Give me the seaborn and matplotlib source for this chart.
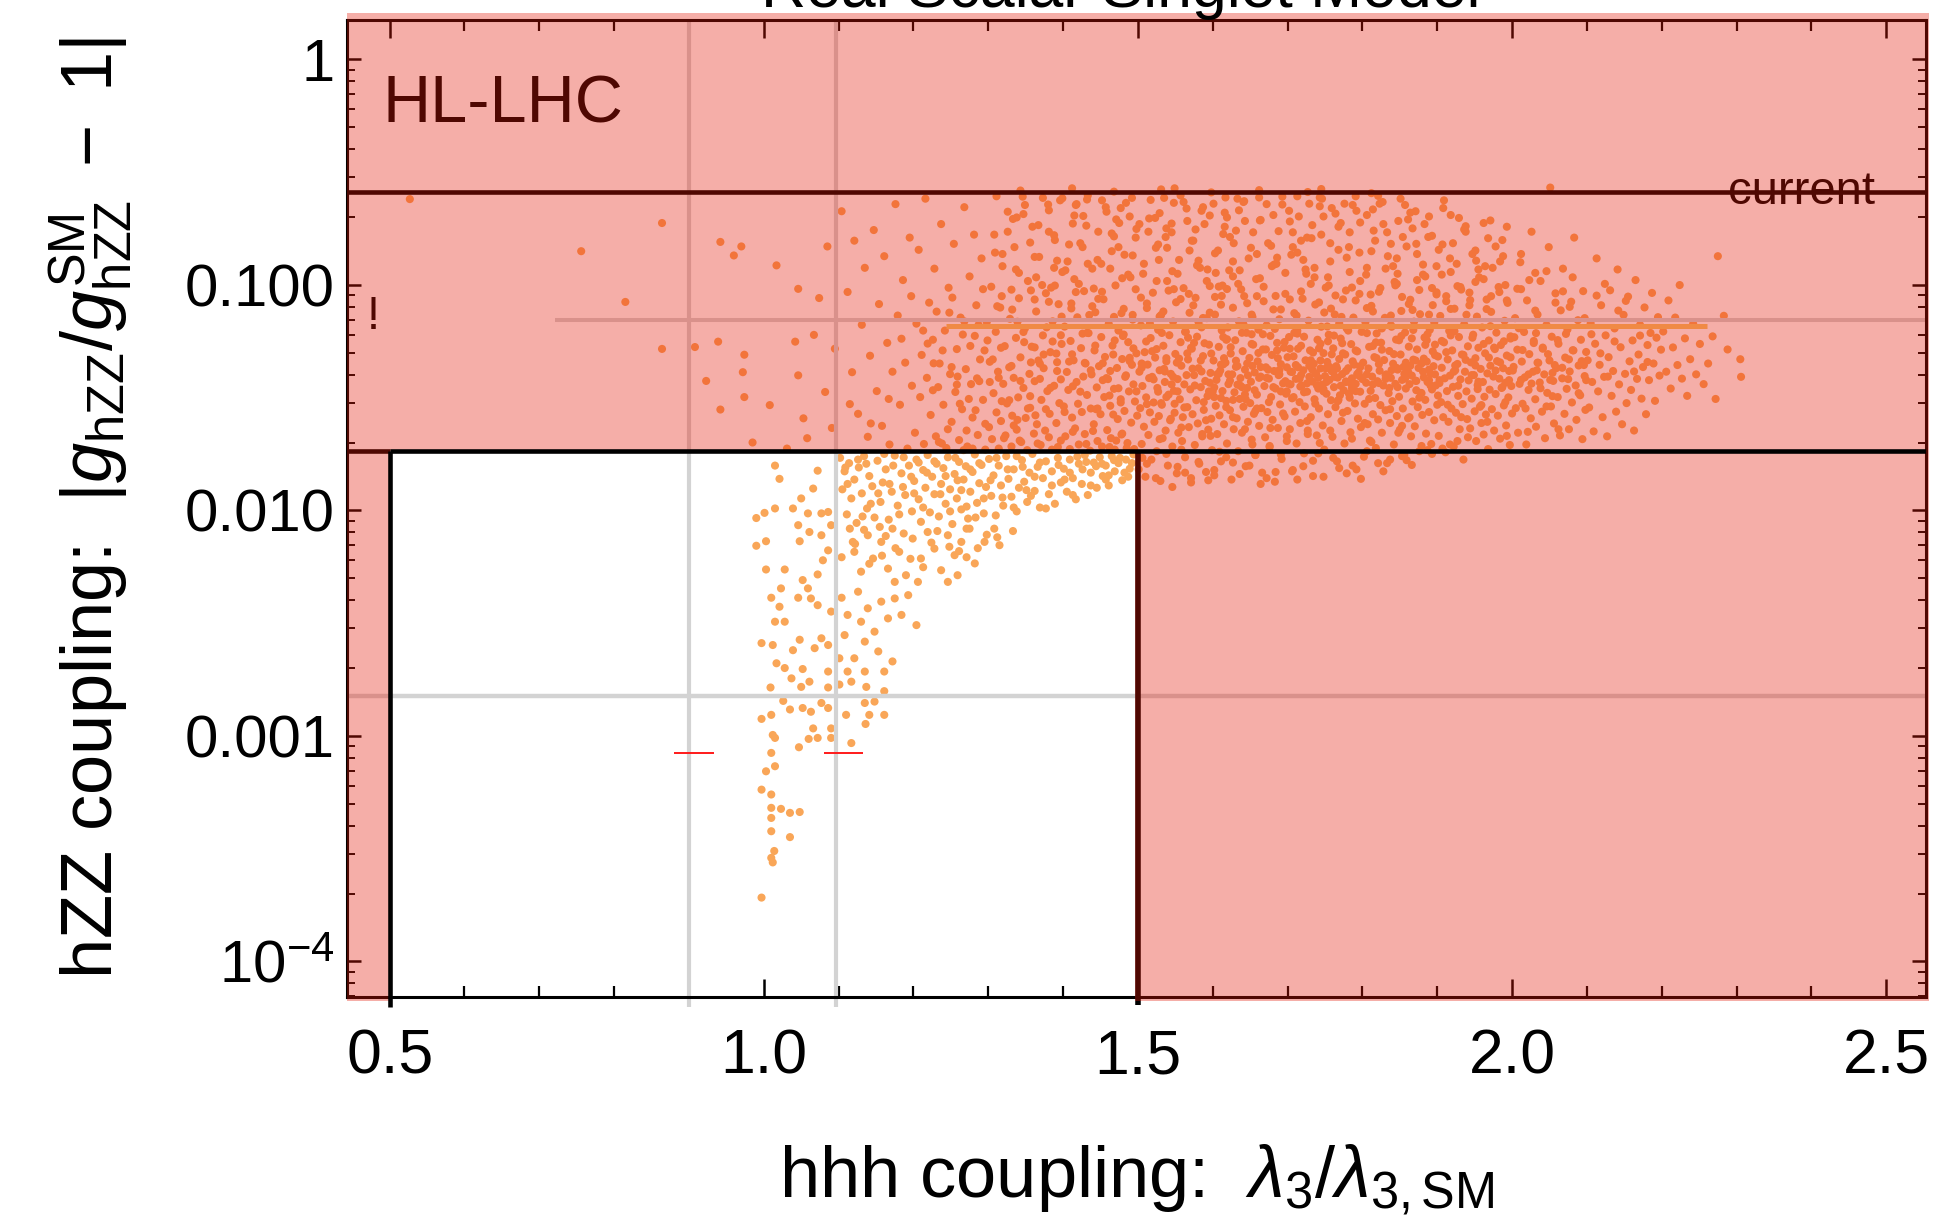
import matplotlib
matplotlib.use("Agg")
import matplotlib.pyplot as plt
import pandas as pd
import seaborn as sns
from matplotlib.patches import Polygon
from matplotlib.ticker import FixedLocator, FixedFormatter, LogLocator, NullFormatter, MultipleLocator

# ------------------------------------------------------------------
# Axis setup values
# ------------------------------------------------------------------
lam_ticks = [0.5, 1.0, 1.5, 2.0, 2.5]
lam_tick_labels = ["0.5", "1.0", "1.5", "2.0", "2.5"]
dev_ticks = [1e-4, 1e-3, 1e-2, 1e-1, 1.0]
dev_tick_labels = [r"$10^{-4}$", "0.001", "0.010", "0.100", "1"]
lam_limits = (0.443, 2.553)
dev_limits = (6.97e-5, 1.50)

# Constraint lines
hl_lhc_dev_bound = 0.0183      # HL-LHC reach on |g_hZZ/g_hZZ^SM - 1|
current_dev_bound = 0.258      # present bound
lam_window = (0.5, 1.5)        # HL-LHC reach on lambda_3
guide_lams = [0.9, 1.096]
guide_dev = 0.0015
upper_guide_dev = 0.0697
upper_guide_start = 0.721
band_dev = 0.0658
band_lams = (1.244, 2.261)
red_marks_dev = 8.37e-4
red_marks_lams = [(0.880, 0.933), (1.081, 1.133)]

# ------------------------------------------------------------------
# Scan points: (lambda_3 / lambda_3,SM , |g_hZZ/g_hZZ^SM - 1|)
# ------------------------------------------------------------------
sparse_left = [
    (0.527, 0.240), (0.756, 0.141), (0.815, 0.084), (0.864, 0.188), (0.864, 0.052),
    (0.908, 0.053), (0.939, 0.056), (0.942, 0.155), (0.970, 0.148), (0.960, 0.135),
    (1.017, 0.122), (1.046, 0.096), (1.085, 0.148), (0.974, 0.049), (1.042, 0.056),
    (1.067, 0.060), (0.923, 0.0375), (0.972, 0.041), (1.046, 0.0397), (0.974, 0.0318),
    (0.942, 0.028), (1.008, 0.0293), (1.053, 0.0256), (0.985, 0.020), (1.058, 0.0209),
    (1.082, 0.0335), (1.091, 0.0232), (1.074, 0.0874), (1.031, 0.0188), (1.095, 0.0521),
]

cloud_mid_lam = [
    # 1.10 - 1.20
    (1.104, 0.212), (1.112, 0.093), (1.118, 0.041), (1.121, 0.157), (1.126, 0.0268),
    (1.131, 0.0665), (1.135, 0.119), (1.139, 0.0212), (1.142, 0.0485), (1.147, 0.175),
    (1.151, 0.0338), (1.154, 0.0822), (1.158, 0.0237), (1.161, 0.134), (1.165, 0.0553),
    (1.168, 0.0196), (1.172, 0.0412), (1.176, 0.228), (1.179, 0.0731), (1.182, 0.0294),
    (1.186, 0.105), (1.189, 0.0452), (1.192, 0.0188), (1.195, 0.162), (1.198, 0.0357),
    (1.115, 0.0296), (1.143, 0.0243), (1.167, 0.0312), (1.184, 0.0577), (1.197, 0.0891),
    # 1.20 - 1.30
    (1.202, 0.0221), (1.204, 0.0673), (1.207, 0.143), (1.209, 0.0318), (1.211, 0.0489),
    (1.214, 0.0197), (1.216, 0.241), (1.218, 0.0387), (1.221, 0.0834), (1.223, 0.0265),
    (1.226, 0.0571), (1.228, 0.118), (1.230, 0.0213), (1.233, 0.0352), (1.235, 0.0448),
    (1.237, 0.186), (1.240, 0.0294), (1.242, 0.0627), (1.244, 0.0189), (1.247, 0.0971),
    (1.249, 0.0402), (1.251, 0.0247), (1.254, 0.152), (1.256, 0.0335), (1.258, 0.0519),
    (1.261, 0.0205), (1.263, 0.0716), (1.265, 0.0281), (1.268, 0.221), (1.270, 0.0423),
    (1.272, 0.0192), (1.275, 0.109), (1.277, 0.0363), (1.279, 0.0258), (1.282, 0.0594),
    (1.284, 0.0812), (1.286, 0.0216), (1.289, 0.0467), (1.291, 0.131), (1.293, 0.0309),
    (1.296, 0.0186), (1.298, 0.0684), (1.219, 0.0549), (1.231, 0.0761), (1.246, 0.0229),
    (1.259, 0.0392), (1.267, 0.0185), (1.274, 0.0312), (1.281, 0.167), (1.288, 0.0374),
    (1.295, 0.0512), (1.252, 0.0878), (1.238, 0.0198), (1.266, 0.0602),
    # 1.30 - 1.40
    (1.301, 0.0234), (1.302, 0.0456), (1.304, 0.0981), (1.305, 0.0207), (1.307, 0.0331),
    (1.308, 0.167), (1.310, 0.0619), (1.311, 0.0272), (1.313, 0.0412), (1.314, 0.0188),
    (1.316, 0.0793), (1.317, 0.0249), (1.319, 0.121), (1.320, 0.0364), (1.322, 0.0535),
    (1.323, 0.0215), (1.325, 0.0298), (1.326, 0.211), (1.328, 0.0431), (1.329, 0.0707),
    (1.331, 0.0192), (1.332, 0.0263), (1.334, 0.0387), (1.335, 0.147), (1.337, 0.0582),
    (1.338, 0.0228), (1.340, 0.0317), (1.341, 0.0872), (1.343, 0.0477), (1.344, 0.0201),
    (1.346, 0.246), (1.347, 0.0349), (1.349, 0.0641), (1.350, 0.0257), (1.352, 0.0185),
    (1.353, 0.104), (1.355, 0.0403), (1.356, 0.0285), (1.358, 0.0532), (1.359, 0.181),
    (1.361, 0.0219), (1.362, 0.0374), (1.364, 0.0762), (1.365, 0.0241), (1.367, 0.0462),
    (1.368, 0.133), (1.370, 0.0195), (1.371, 0.0309), (1.373, 0.0597), (1.374, 0.0427),
    (1.376, 0.0226), (1.377, 0.0918), (1.379, 0.0338), (1.380, 0.227), (1.382, 0.0268),
    (1.383, 0.0503), (1.385, 0.0186), (1.386, 0.0689), (1.388, 0.0357), (1.389, 0.158),
    (1.391, 0.0244), (1.392, 0.0415), (1.394, 0.0821), (1.395, 0.0299), (1.397, 0.0204),
    (1.398, 0.0547), (1.399, 0.114), (1.318, 0.0305), (1.333, 0.196), (1.348, 0.0557),
    (1.363, 0.0264), (1.378, 0.0648), (1.393, 0.0191), (1.309, 0.139), (1.339, 0.0252),
    (1.369, 0.0383), (1.384, 0.0972), (1.396, 0.237),
    # 1.40 - 1.50
    (1.401, 0.0289), (1.402, 0.0653), (1.403, 0.0213), (1.405, 0.0411), (1.406, 0.127),
    (1.407, 0.0342), (1.409, 0.0187), (1.410, 0.0564), (1.411, 0.0827), (1.412, 0.0258),
    (1.414, 0.0463), (1.415, 0.203), (1.416, 0.0231), (1.418, 0.0371), (1.419, 0.0718),
    (1.420, 0.0297), (1.421, 0.0196), (1.423, 0.153), (1.424, 0.0524), (1.425, 0.0273),
    (1.427, 0.0392), (1.428, 0.0938), (1.429, 0.0218), (1.430, 0.0448), (1.432, 0.0325),
    (1.433, 0.249), (1.434, 0.0611), (1.436, 0.0184), (1.437, 0.0283), (1.438, 0.0401),
    (1.439, 0.118), (1.441, 0.0241), (1.442, 0.0512), (1.443, 0.0756), (1.445, 0.0351),
    (1.446, 0.0203), (1.447, 0.172), (1.448, 0.0436), (1.450, 0.0267), (1.451, 0.0587),
    (1.452, 0.0192), (1.454, 0.0863), (1.455, 0.0318), (1.456, 0.0479), (1.457, 0.221),
    (1.459, 0.0227), (1.460, 0.0382), (1.461, 0.0671), (1.463, 0.0291), (1.464, 0.0209),
    (1.465, 0.141), (1.466, 0.0538), (1.468, 0.0346), (1.469, 0.0186), (1.470, 0.0994),
    (1.472, 0.0428), (1.473, 0.0254), (1.474, 0.0627), (1.475, 0.188), (1.477, 0.0311),
    (1.478, 0.0217), (1.479, 0.0469), (1.481, 0.0783), (1.482, 0.0276), (1.483, 0.0391),
    (1.484, 0.231), (1.486, 0.0199), (1.487, 0.0557), (1.488, 0.0337), (1.490, 0.108),
    (1.491, 0.0245), (1.492, 0.0442), (1.493, 0.0701), (1.495, 0.0187), (1.496, 0.0304),
    (1.497, 0.162), (1.498, 0.0497), (1.499, 0.0263), (1.413, 0.0355), (1.426, 0.0608),
    (1.440, 0.0225), (1.453, 0.0378), (1.467, 0.0266), (1.480, 0.0593), (1.494, 0.0362),
    (1.417, 0.0929), (1.444, 0.0281), (1.471, 0.0204), (1.489, 0.0475), (1.408, 0.0457),
    (1.435, 0.0735), (1.462, 0.0323), (1.485, 0.0189),
    # extra 1.20 - 1.40
    (1.251, 0.0432), (1.283, 0.0278), (1.317, 0.0526), (1.268, 0.0689), (1.302, 0.0371),
    (1.334, 0.0238), (1.226, 0.0341), (1.293, 0.0957), (1.347, 0.0618), (1.239, 0.0512),
    (1.271, 0.0226), (1.312, 0.0804), (1.357, 0.0453), (1.285, 0.0385), (1.328, 0.0308),
    (1.213, 0.0627), (1.262, 0.0297), (1.306, 0.0467), (1.343, 0.0375), (1.377, 0.0281),
    (1.234, 0.0201), (1.276, 0.0536), (1.321, 0.0209), (1.362, 0.0528), (1.392, 0.0454),
    (1.248, 0.0753), (1.296, 0.0242), (1.339, 0.0686), (1.383, 0.0349), (1.227, 0.0449),
    (1.279, 0.0188), (1.314, 0.0387), (1.353, 0.0283), (1.374, 0.0491), (1.258, 0.0361),
    (1.299, 0.0567), (1.331, 0.0437), (1.366, 0.0198), (1.397, 0.0598), (1.287, 0.0664),
]

cloud_high_lam = [
    # 1.50 - 1.60
    (1.501, 0.0152), (1.502, 0.0412), (1.503, 0.0284), (1.504, 0.0661), (1.505, 0.0197),
    (1.506, 0.0356), (1.507, 0.112), (1.508, 0.0235), (1.509, 0.0503), (1.510, 0.0141),
    (1.511, 0.0317), (1.512, 0.0789), (1.513, 0.0443), (1.514, 0.0216), (1.515, 0.197),
    (1.516, 0.0272), (1.517, 0.0581), (1.518, 0.0168), (1.519, 0.0391), (1.520, 0.0923),
    (1.521, 0.0301), (1.522, 0.0247), (1.523, 0.0476), (1.524, 0.146), (1.525, 0.0183),
    (1.526, 0.0349), (1.527, 0.0632), (1.528, 0.0262), (1.529, 0.0418), (1.530, 0.0135),
    (1.531, 0.0735), (1.532, 0.0294), (1.533, 0.0209), (1.534, 0.0537), (1.535, 0.243),
    (1.536, 0.0371), (1.537, 0.0226), (1.538, 0.0458), (1.539, 0.104), (1.540, 0.0158),
    (1.541, 0.0326), (1.542, 0.0598), (1.543, 0.0251), (1.544, 0.0403), (1.545, 0.171),
    (1.546, 0.0192), (1.547, 0.0688), (1.548, 0.0339), (1.549, 0.0271), (1.550, 0.0494),
    (1.551, 0.0837), (1.552, 0.0146), (1.553, 0.0382), (1.554, 0.0221), (1.555, 0.129),
    (1.556, 0.0311), (1.557, 0.0557), (1.558, 0.0438), (1.559, 0.0203), (1.560, 0.0259),
    (1.561, 0.0967), (1.562, 0.0362), (1.563, 0.0172), (1.564, 0.0619), (1.565, 0.218),
    (1.566, 0.0287), (1.567, 0.0467), (1.568, 0.0234), (1.569, 0.0752), (1.570, 0.0344),
    (1.571, 0.0139), (1.572, 0.0521), (1.573, 0.0267), (1.574, 0.157), (1.575, 0.0398),
    (1.576, 0.0195), (1.577, 0.0876), (1.578, 0.0308), (1.579, 0.0589), (1.580, 0.0243),
    (1.581, 0.0427), (1.582, 0.0161), (1.583, 0.119), (1.584, 0.0352), (1.585, 0.0648),
    (1.586, 0.0213), (1.587, 0.0483), (1.588, 0.0279), (1.589, 0.186), (1.590, 0.0375),
    (1.591, 0.0148), (1.592, 0.0712), (1.593, 0.0321), (1.594, 0.0228), (1.595, 0.0543),
    (1.596, 0.0988), (1.597, 0.0407), (1.598, 0.0255), (1.599, 0.0185), (1.600, 0.0337),
    (1.505, 0.0448), (1.515, 0.0386), (1.525, 0.0519), (1.535, 0.0424), (1.545, 0.0362),
    (1.555, 0.0471), (1.565, 0.0398), (1.575, 0.0553), (1.585, 0.0413), (1.595, 0.0337),
    (1.512, 0.0296), (1.538, 0.0318), (1.562, 0.0286), (1.588, 0.0302),
    # 1.60 - 1.70
    (1.601, 0.0462), (1.602, 0.0143), (1.603, 0.0738), (1.604, 0.0291), (1.605, 0.0379),
    (1.606, 0.0218), (1.607, 0.142), (1.608, 0.0531), (1.609, 0.0264), (1.610, 0.0417),
    (1.611, 0.0165), (1.612, 0.0893), (1.613, 0.0338), (1.614, 0.0587), (1.615, 0.0241),
    (1.616, 0.209), (1.617, 0.0452), (1.618, 0.0306), (1.619, 0.0198), (1.620, 0.0647),
    (1.621, 0.0363), (1.622, 0.116), (1.623, 0.0278), (1.624, 0.0496), (1.625, 0.0137),
    (1.626, 0.0401), (1.627, 0.0792), (1.628, 0.0229), (1.629, 0.0334), (1.630, 0.0568),
    (1.631, 0.174), (1.632, 0.0256), (1.633, 0.0437), (1.634, 0.0183), (1.635, 0.0689),
    (1.636, 0.0312), (1.637, 0.0386), (1.638, 0.0955), (1.639, 0.0221), (1.640, 0.0508),
    (1.641, 0.0288), (1.642, 0.235), (1.643, 0.0421), (1.644, 0.0157), (1.645, 0.0613),
    (1.646, 0.0349), (1.647, 0.0247), (1.648, 0.131), (1.649, 0.0474), (1.650, 0.0299),
    (1.651, 0.0372), (1.652, 0.0206), (1.653, 0.0721), (1.654, 0.0543), (1.655, 0.0268),
    (1.656, 0.0409), (1.657, 0.0176), (1.658, 0.106), (1.659, 0.0326), (1.660, 0.0458),
    (1.661, 0.0633), (1.662, 0.0237), (1.663, 0.193), (1.664, 0.0392), (1.665, 0.0284),
    (1.666, 0.0147), (1.667, 0.0517), (1.668, 0.0846), (1.669, 0.0356), (1.670, 0.0211),
    (1.671, 0.0431), (1.672, 0.0662), (1.673, 0.0273), (1.674, 0.153), (1.675, 0.0384),
    (1.676, 0.0191), (1.677, 0.0594), (1.678, 0.0318), (1.679, 0.0489), (1.680, 0.0252),
    (1.681, 0.0778), (1.682, 0.0415), (1.683, 0.0134), (1.684, 0.0347), (1.685, 0.124),
    (1.686, 0.0553), (1.687, 0.0232), (1.688, 0.0398), (1.689, 0.0704), (1.690, 0.0295),
    (1.691, 0.0445), (1.692, 0.0169), (1.693, 0.227), (1.694, 0.0366), (1.695, 0.0526),
    (1.696, 0.0261), (1.697, 0.0912), (1.698, 0.0329), (1.699, 0.0203), (1.700, 0.0478),
    (1.606, 0.0402), (1.614, 0.0444), (1.623, 0.0376), (1.631, 0.0461), (1.639, 0.0352),
    (1.647, 0.0397), (1.656, 0.0341), (1.664, 0.0432), (1.672, 0.0387), (1.681, 0.0352),
    (1.689, 0.0419), (1.697, 0.0374), (1.611, 0.0315), (1.627, 0.0309), (1.643, 0.0327),
    (1.659, 0.0283), (1.675, 0.0302), (1.691, 0.0337), (1.618, 0.0571), (1.652, 0.0604),
    (1.686, 0.0512),
    # 1.70 - 1.80
    (1.701, 0.0365), (1.702, 0.0587), (1.703, 0.0229), (1.704, 0.0412), (1.705, 0.136),
    (1.706, 0.0314), (1.707, 0.0151), (1.708, 0.0482), (1.709, 0.0749), (1.710, 0.0274),
    (1.711, 0.0383), (1.712, 0.0198), (1.713, 0.0626), (1.714, 0.0431), (1.715, 0.201),
    (1.716, 0.0302), (1.717, 0.0244), (1.718, 0.0537), (1.719, 0.0357), (1.720, 0.0868),
    (1.721, 0.0418), (1.722, 0.0179), (1.723, 0.0289), (1.724, 0.0463), (1.725, 0.112),
    (1.726, 0.0336), (1.727, 0.0226), (1.728, 0.0694), (1.729, 0.0391), (1.730, 0.0512),
    (1.731, 0.0259), (1.732, 0.161), (1.733, 0.0373), (1.734, 0.0142), (1.735, 0.0447),
    (1.736, 0.0311), (1.737, 0.0818), (1.738, 0.0405), (1.739, 0.0215), (1.740, 0.0571),
    (1.741, 0.0347), (1.742, 0.0283), (1.743, 0.244), (1.744, 0.0426), (1.745, 0.0652),
    (1.746, 0.0361), (1.747, 0.0238), (1.748, 0.0498), (1.749, 0.0186), (1.750, 0.0394),
    (1.751, 0.0972), (1.752, 0.0329), (1.753, 0.0455), (1.754, 0.0267), (1.755, 0.0601),
    (1.756, 0.0379), (1.757, 0.127), (1.758, 0.0308), (1.759, 0.0414), (1.760, 0.0212),
    (1.761, 0.0523), (1.762, 0.0352), (1.763, 0.0739), (1.764, 0.0287), (1.765, 0.0436),
    (1.766, 0.0165), (1.767, 0.0388), (1.768, 0.181), (1.769, 0.0469), (1.770, 0.0324),
    (1.771, 0.0578), (1.772, 0.0249), (1.773, 0.0402), (1.774, 0.0862), (1.775, 0.0341),
    (1.776, 0.0198), (1.777, 0.0491), (1.778, 0.0371), (1.779, 0.0641), (1.780, 0.0276),
    (1.781, 0.0427), (1.782, 0.147), (1.783, 0.0316), (1.784, 0.0222), (1.785, 0.0546),
    (1.786, 0.0385), (1.787, 0.0158), (1.788, 0.0716), (1.789, 0.0443), (1.790, 0.0298),
    (1.791, 0.0364), (1.792, 0.213), (1.793, 0.0507), (1.794, 0.0255), (1.795, 0.0409),
    (1.796, 0.0912), (1.797, 0.0336), (1.798, 0.0234), (1.799, 0.0619), (1.800, 0.0382),
    (1.704, 0.0362), (1.711, 0.0441), (1.718, 0.0398), (1.726, 0.0366), (1.733, 0.0421),
    (1.741, 0.0387), (1.748, 0.0345), (1.756, 0.0433), (1.763, 0.0391), (1.771, 0.0357),
    (1.778, 0.0415), (1.786, 0.0348), (1.793, 0.0402), (1.708, 0.0318), (1.722, 0.0334),
    (1.737, 0.0297), (1.752, 0.0371), (1.767, 0.0305), (1.782, 0.0329), (1.797, 0.0436),
    (1.714, 0.0521), (1.744, 0.0548), (1.774, 0.0497),
    # 1.80 - 1.90
    (1.801, 0.0452), (1.802, 0.0173), (1.803, 0.0297), (1.804, 0.0683), (1.805, 0.0368),
    (1.806, 0.119), (1.807, 0.0241), (1.808, 0.0426), (1.809, 0.0531), (1.810, 0.0204),
    (1.811, 0.0339), (1.812, 0.0807), (1.813, 0.0392), (1.814, 0.0267), (1.815, 0.174),
    (1.816, 0.0478), (1.817, 0.0315), (1.818, 0.0189), (1.819, 0.0609), (1.820, 0.0374),
    (1.821, 0.0253), (1.822, 0.0932), (1.823, 0.0416), (1.824, 0.0293), (1.825, 0.0554),
    (1.826, 0.0221), (1.827, 0.233), (1.828, 0.0358), (1.829, 0.0464), (1.830, 0.0714),
    (1.831, 0.0278), (1.832, 0.0401), (1.833, 0.0162), (1.834, 0.134), (1.835, 0.0331),
    (1.836, 0.0509), (1.837, 0.0244), (1.838, 0.0387), (1.839, 0.0652), (1.840, 0.0305),
    (1.841, 0.0447), (1.842, 0.0196), (1.843, 0.103), (1.844, 0.0364), (1.845, 0.0572),
    (1.846, 0.0262), (1.847, 0.0421), (1.848, 0.192), (1.849, 0.0319), (1.850, 0.0228),
    (1.851, 0.0491), (1.852, 0.0766), (1.853, 0.0379), (1.854, 0.0283), (1.855, 0.0433),
    (1.856, 0.0177), (1.857, 0.0615), (1.858, 0.0347), (1.859, 0.148), (1.860, 0.0411),
    (1.861, 0.0256), (1.862, 0.0532), (1.863, 0.0363), (1.864, 0.0859), (1.865, 0.0213),
    (1.866, 0.0396), (1.867, 0.0304), (1.868, 0.0466), (1.869, 0.0687), (1.870, 0.0236),
    (1.871, 0.212), (1.872, 0.0375), (1.873, 0.0517), (1.874, 0.0287), (1.875, 0.0428),
    (1.876, 0.0183), (1.877, 0.0741), (1.878, 0.0332), (1.879, 0.0448), (1.880, 0.0265),
    (1.881, 0.111), (1.882, 0.0389), (1.883, 0.0584), (1.884, 0.0309), (1.885, 0.0219),
    (1.886, 0.0457), (1.887, 0.0371), (1.888, 0.163), (1.889, 0.0273), (1.890, 0.0632),
    (1.891, 0.0403), (1.892, 0.0197), (1.893, 0.0344), (1.894, 0.0813), (1.895, 0.0436),
    (1.896, 0.0251), (1.897, 0.0543), (1.898, 0.0358), (1.899, 0.0927), (1.900, 0.0294),
    (1.806, 0.0401), (1.814, 0.0362), (1.822, 0.0445), (1.831, 0.0383), (1.839, 0.0419),
    (1.847, 0.0352), (1.856, 0.0403), (1.864, 0.0438), (1.872, 0.0341), (1.881, 0.0412),
    (1.889, 0.0378), (1.897, 0.0401), (1.818, 0.0556), (1.852, 0.0593), (1.886, 0.0568),
    # 1.90 - 2.00
    (1.901, 0.0481), (1.902, 0.0214), (1.903, 0.0367), (1.904, 0.0728), (1.905, 0.0302),
    (1.906, 0.0429), (1.907, 0.151), (1.908, 0.0259), (1.909, 0.0556), (1.910, 0.0385),
    (1.911, 0.0181), (1.912, 0.0891), (1.913, 0.0338), (1.914, 0.0467), (1.915, 0.0247),
    (1.916, 0.0625), (1.917, 0.0396), (1.918, 0.204), (1.919, 0.0283), (1.920, 0.0512),
    (1.921, 0.0353), (1.922, 0.0192), (1.923, 0.0784), (1.924, 0.0418), (1.925, 0.0271),
    (1.926, 0.124), (1.927, 0.0446), (1.928, 0.0322), (1.929, 0.0587), (1.930, 0.0229),
    (1.931, 0.0381), (1.932, 0.0953), (1.933, 0.0491), (1.934, 0.0296), (1.935, 0.0168),
    (1.936, 0.0668), (1.937, 0.0412), (1.938, 0.172), (1.939, 0.0337), (1.940, 0.0254),
    (1.941, 0.0534), (1.942, 0.0377), (1.943, 0.0812), (1.944, 0.0231), (1.945, 0.0453),
    (1.946, 0.0313), (1.947, 0.137), (1.948, 0.0601), (1.949, 0.0398), (1.950, 0.0275),
    (1.951, 0.0473), (1.952, 0.0203), (1.953, 0.0723), (1.954, 0.0359), (1.955, 0.0526),
    (1.956, 0.108), (1.957, 0.0288), (1.958, 0.0424), (1.959, 0.0244), (1.960, 0.0647),
    (1.961, 0.0371), (1.962, 0.188), (1.963, 0.0319), (1.964, 0.0497), (1.965, 0.0266),
    (1.966, 0.0861), (1.967, 0.0405), (1.968, 0.0187), (1.969, 0.0567), (1.970, 0.0343),
    (1.971, 0.0438), (1.972, 0.0759), (1.973, 0.0281), (1.974, 0.119), (1.975, 0.0392),
    (1.976, 0.0226), (1.977, 0.0519), (1.978, 0.0328), (1.979, 0.0614), (1.980, 0.0459),
    (1.981, 0.0263), (1.982, 0.0978), (1.983, 0.0384), (1.984, 0.0208), (1.985, 0.0541),
    (1.986, 0.0349), (1.987, 0.158), (1.988, 0.0427), (1.989, 0.0292), (1.990, 0.0693),
    (1.991, 0.0368), (1.992, 0.0238), (1.993, 0.0486), (1.994, 0.0832), (1.995, 0.0317),
    (1.996, 0.0415), (1.997, 0.0195), (1.998, 0.0578), (1.999, 0.0356), (2.000, 0.0269),
]

cloud_upper_fill = [
    (1.452, 0.237), (1.587, 0.221), (1.693, 0.246), (1.338, 0.199), (1.771, 0.188),
    (1.514, 0.172), (1.864, 0.209), (1.623, 0.163), (1.408, 0.151), (1.729, 0.229),
    (1.936, 0.176), (1.557, 0.249), (1.381, 0.214), (1.817, 0.157), (1.664, 0.194),
    (1.493, 0.135), (1.902, 0.143), (1.745, 0.167), (1.603, 0.138), (1.326, 0.172),
    (1.851, 0.241), (1.529, 0.208), (1.787, 0.226), (1.431, 0.183), (1.678, 0.149),
    (1.968, 0.161), (1.362, 0.133), (1.566, 0.192), (1.713, 0.139), (1.883, 0.186),
    (1.477, 0.219), (1.641, 0.233), (1.806, 0.204), (1.399, 0.242), (1.539, 0.146),
    (1.757, 0.153), (1.929, 0.198), (1.616, 0.181), (1.468, 0.164), (1.833, 0.171),
    (1.702, 0.213), (1.349, 0.226), (1.581, 0.128), (1.917, 0.131), (1.654, 0.171),
    (1.502, 0.186), (1.796, 0.139), (1.427, 0.202), (1.733, 0.184), (1.872, 0.152),
    (1.548, 0.231), (1.617, 0.244), (1.388, 0.166), (1.951, 0.142), (1.686, 0.132),
    (1.823, 0.229), (1.446, 0.129), (1.572, 0.157), (1.764, 0.207), (1.528, 0.129),
    (1.893, 0.165), (1.635, 0.214), (1.418, 0.228), (1.707, 0.171), (1.984, 0.127),
    (1.489, 0.201), (1.846, 0.131), (1.596, 0.203), (1.746, 0.241), (1.367, 0.184),
    (1.659, 0.137), (1.908, 0.219), (1.538, 0.178), (1.783, 0.171), (1.311, 0.247),
    (1.628, 0.153), (1.861, 0.195), (1.474, 0.147), (1.718, 0.157), (1.993, 0.181),
    (1.356, 0.154), (1.492, 0.243), (1.627, 0.127), (1.759, 0.219), (1.884, 0.109),
    (1.413, 0.187), (1.548, 0.0957), (1.681, 0.204), (1.812, 0.141), (1.943, 0.0924),
    (1.331, 0.0952), (1.465, 0.169), (1.601, 0.229), (1.736, 0.119), (1.867, 0.178),
    (1.991, 0.0998), (1.392, 0.128), (1.523, 0.198), (1.659, 0.0891), (1.791, 0.247),
    (1.921, 0.153), (1.347, 0.206), (1.479, 0.107), (1.614, 0.168), (1.748, 0.201),
    (1.876, 0.0949), (2.012, 0.137), (1.426, 0.147), (1.561, 0.233), (1.697, 0.113),
    (1.828, 0.186), (1.962, 0.106), (1.373, 0.243), (1.508, 0.124), (1.643, 0.192),
    (1.779, 0.132), (1.909, 0.237), (1.441, 0.0963), (1.577, 0.176), (1.713, 0.247),
    (1.846, 0.101), (1.978, 0.148), (1.319, 0.137), (1.458, 0.211), (1.593, 0.117),
    (1.726, 0.162), (1.857, 0.226), (2.031, 0.113), (1.403, 0.116), (1.537, 0.163),
    (1.672, 0.228), (1.805, 0.111), (1.938, 0.182), (1.364, 0.108), (1.498, 0.177),
    (1.634, 0.101), (1.768, 0.143), (1.899, 0.121), (1.432, 0.239), (1.569, 0.142),
    (1.703, 0.191), (1.838, 0.152), (1.971, 0.193), (1.381, 0.172), (1.517, 0.238),
    (1.651, 0.146), (1.786, 0.0973), (1.918, 0.114), (1.451, 0.124), (1.585, 0.213),
    (1.721, 0.129), (1.854, 0.163), (1.988, 0.134), (1.337, 0.117), (1.471, 0.195),
    (1.608, 0.0982), (1.743, 0.223), (1.873, 0.137), (2.007, 0.0961), (1.417, 0.226),
    (1.553, 0.112), (1.688, 0.173), (1.821, 0.248), (1.952, 0.128), (1.389, 0.0993),
    (1.527, 0.151), (1.662, 0.244), (1.797, 0.189), (1.931, 0.0978), (1.482, 0.136),
    (1.619, 0.199), (1.754, 0.108), (1.889, 0.201), (1.545, 0.187), (1.682, 0.123),
    (1.814, 0.216), (1.707, 0.147), (1.633, 0.241), (1.776, 0.229), (1.841, 0.121),
]

cloud_mid_fill = [
    (1.463, 0.118), (1.592, 0.104), (1.718, 0.0935), (1.847, 0.112), (1.381, 0.0841),
    (1.534, 0.0762), (1.679, 0.121), (1.806, 0.0789), (1.927, 0.0987), (2.058, 0.0834),
    (1.421, 0.101), (1.568, 0.0912), (1.736, 0.108), (1.889, 0.0738), (1.341, 0.113),
    (1.611, 0.0817), (1.772, 0.0721), (1.955, 0.117), (2.113, 0.0896), (1.497, 0.0956),
    (1.652, 0.0738), (1.824, 0.0968), (1.398, 0.0723), (1.546, 0.115), (1.703, 0.0862),
    (1.873, 0.105), (2.031, 0.0769), (1.447, 0.0867), (1.587, 0.0713), (1.755, 0.0994),
    (1.912, 0.0846), (1.357, 0.0945), (1.627, 0.109), (1.791, 0.0853), (1.983, 0.0929),
    (2.081, 0.108), (1.512, 0.0827), (1.668, 0.0981), (1.838, 0.0731), (1.433, 0.124),
    (1.603, 0.0884), (1.749, 0.0754), (1.906, 0.111), (2.142, 0.0769), (1.478, 0.0749),
    (1.636, 0.116), (1.811, 0.0906), (1.966, 0.0781), (1.372, 0.0998), (1.557, 0.0865),
    (1.724, 0.117), (1.862, 0.0823), (2.012, 0.0957), (1.411, 0.0786), (1.579, 0.122),
    (1.691, 0.0778), (1.853, 0.0884), (1.939, 0.0737), (2.097, 0.0712), (1.525, 0.104),
    (1.646, 0.0829), (1.783, 0.114), (1.951, 0.103), (1.332, 0.0777), (1.487, 0.111),
    (1.619, 0.0958), (1.764, 0.0897), (1.893, 0.0968), (2.046, 0.115), (1.452, 0.0932),
    (1.596, 0.0753), (1.742, 0.0836), (1.881, 0.123), (1.993, 0.0853), (1.388, 0.119),
    (1.541, 0.0943), (1.712, 0.0731), (1.831, 0.118), (2.068, 0.0936), (1.468, 0.0721),
    (1.613, 0.0993), (1.778, 0.0944), (1.918, 0.0782), (2.124, 0.101), (1.504, 0.0878),
    (1.663, 0.107), (1.814, 0.0762), (1.972, 0.0891), (1.415, 0.106), (1.574, 0.0811),
    (1.731, 0.101), (1.867, 0.0774), (2.023, 0.105), (1.362, 0.0861), (1.529, 0.0724),
    (1.684, 0.0893), (1.844, 0.0995), (1.964, 0.121), (2.152, 0.0849), (1.439, 0.0804),
    (1.604, 0.113), (1.758, 0.0785), (1.899, 0.0907), (2.077, 0.0799), (1.493, 0.0736),
    (1.642, 0.0891), (1.797, 0.104), (1.944, 0.0856), (1.318, 0.0891),
]

cloud_core_fill = [
    (1.532, 0.0612), (1.687, 0.0473), (1.814, 0.0536), (1.946, 0.0398), (1.618, 0.0287),
    (1.753, 0.0654), (1.879, 0.0331), (1.467, 0.0491), (1.596, 0.0368), (1.722, 0.0589),
    (1.858, 0.0452), (1.991, 0.0302), (1.544, 0.0255), (1.671, 0.0517), (1.796, 0.0394),
    (1.923, 0.0623), (2.057, 0.0441), (1.423, 0.0336), (1.581, 0.0684), (1.706, 0.0411),
    (1.837, 0.0281), (1.962, 0.0547), (1.505, 0.0429), (1.639, 0.0613), (1.768, 0.0309),
    (1.897, 0.0488), (2.026, 0.0365), (1.386, 0.0561), (1.553, 0.0337), (1.694, 0.0269),
    (1.826, 0.0641), (1.954, 0.0345), (2.118, 0.0497), (1.481, 0.0602), (1.611, 0.0443),
    (1.742, 0.0523), (1.871, 0.0376), (2.003, 0.0586), (1.437, 0.0418), (1.566, 0.0497),
    (1.717, 0.0354), (1.849, 0.0568), (1.978, 0.0417), (2.089, 0.0331), (1.521, 0.0381),
    (1.657, 0.0276), (1.787, 0.0458), (1.914, 0.0294), (2.041, 0.0521), (1.402, 0.0273),
    (1.589, 0.0551), (1.731, 0.0463), (1.863, 0.0259), (1.998, 0.0477), (1.458, 0.0386),
    (1.624, 0.0529), (1.778, 0.0373), (1.906, 0.0564), (2.072, 0.0606), (1.549, 0.0297),
    (1.683, 0.0638), (1.809, 0.0312), (1.938, 0.0465), (2.163, 0.0413), (1.494, 0.0523),
    (1.633, 0.0361), (1.762, 0.0596), (1.889, 0.0421), (2.018, 0.0283), (1.369, 0.0447),
    (1.573, 0.0425), (1.713, 0.0608), (1.842, 0.0493), (1.971, 0.0656), (1.516, 0.0673),
    (1.646, 0.0448), (1.774, 0.0271), (1.903, 0.0378), (2.034, 0.0452), (1.443, 0.0538),
    (1.602, 0.0318), (1.737, 0.0403), (1.868, 0.0631), (1.987, 0.0352), (2.137, 0.0561),
    (1.538, 0.0473), (1.662, 0.0387), (1.791, 0.0512), (1.924, 0.0439), (2.051, 0.0379),
    (1.477, 0.0301), (1.619, 0.0574), (1.748, 0.0337), (1.884, 0.0542), (2.009, 0.0642),
    (1.412, 0.0492), (1.563, 0.0619), (1.699, 0.0431), (1.831, 0.0398), (1.959, 0.0293),
    (2.093, 0.0459), (1.527, 0.0336), (1.652, 0.0547), (1.781, 0.0627), (1.912, 0.0503),
    (2.046, 0.0289), (1.453, 0.0449), (1.608, 0.0403), (1.744, 0.0462), (1.876, 0.0316),
    (2.001, 0.0417), (2.181, 0.0455), (1.591, 0.0251), (1.726, 0.0249), (1.853, 0.0237),
    (1.967, 0.0247), (1.677, 0.0232), (1.803, 0.0244), (1.932, 0.0259), (1.558, 0.0233),
    (1.709, 0.0613), (1.838, 0.0663), (1.641, 0.0668), (1.769, 0.0674), (1.896, 0.0681),
    (1.484, 0.0397), (1.615, 0.0473), (1.751, 0.0426), (1.882, 0.0471), (2.014, 0.0514),
    (1.432, 0.0613), (1.576, 0.0358), (1.703, 0.0521), (1.836, 0.0349), (1.969, 0.0476),
    (2.106, 0.0604), (1.511, 0.0561), (1.644, 0.0311), (1.773, 0.0551), (1.901, 0.0323),
    (2.029, 0.0552), (1.397, 0.0381), (1.552, 0.0452), (1.689, 0.0401), (1.819, 0.0473),
    (1.947, 0.0583), (2.081, 0.0513), (1.469, 0.0567), (1.621, 0.0401), (1.759, 0.0492),
    (1.891, 0.0358), (2.022, 0.0401), (1.536, 0.0413), (1.667, 0.0604), (1.797, 0.0432),
    (1.928, 0.0357), (2.061, 0.0569), (1.356, 0.0321), (1.498, 0.0337), (1.631, 0.0433),
    (1.761, 0.0411), (1.887, 0.0604), (2.038, 0.0348), (1.584, 0.0462), (1.716, 0.0383),
    (1.846, 0.0428), (1.976, 0.0527), (2.128, 0.0392), (1.489, 0.0459), (1.627, 0.0259),
    (1.754, 0.0562), (1.871, 0.0462), (1.996, 0.0378), (1.429, 0.0451), (1.571, 0.0526),
    (1.699, 0.0337), (1.826, 0.0516), (1.955, 0.0372), (2.099, 0.0378), (1.519, 0.0508),
    (1.653, 0.0437), (1.785, 0.0364), (1.918, 0.0597), (2.048, 0.0493), (1.446, 0.0283),
    (1.598, 0.0496), (1.729, 0.0437), (1.857, 0.0384), (1.984, 0.0453), (2.171, 0.0596),
    (1.547, 0.0391), (1.674, 0.0421), (1.806, 0.0611), (1.935, 0.0489), (2.067, 0.0429),
    (1.463, 0.0415), (1.612, 0.0628), (1.739, 0.0359), (1.866, 0.0579), (1.998, 0.0591),
    (1.391, 0.0496), (1.531, 0.0299), (1.661, 0.0499), (1.791, 0.0338), (1.922, 0.0412),
    (2.054, 0.0321), (1.474, 0.0348), (1.637, 0.0357), (1.766, 0.0426), (1.894, 0.0507),
    (2.032, 0.0611), (1.567, 0.0583), (1.696, 0.0558), (1.822, 0.0367), (1.951, 0.0439),
    (2.076, 0.0467), (1.602, 0.0351), (1.734, 0.0501), (1.861, 0.0412), (1.989, 0.0562),
]

cloud_low_fill = [
    (1.512, 0.0161), (1.563, 0.0147), (1.618, 0.0172), (1.672, 0.0139), (1.734, 0.0166),
    (1.792, 0.0152), (1.853, 0.0174), (1.907, 0.0188), (1.538, 0.0178), (1.594, 0.0136),
    (1.649, 0.0158), (1.706, 0.0149), (1.761, 0.0171), (1.821, 0.0162), (1.879, 0.0193),
    (1.941, 0.0211), (1.524, 0.0139), (1.581, 0.0164), (1.636, 0.0145), (1.691, 0.0177),
    (1.748, 0.0141), (1.806, 0.0183), (1.866, 0.0159), (1.927, 0.0203), (1.553, 0.0156),
    (1.609, 0.0182), (1.664, 0.0131), (1.721, 0.0157), (1.779, 0.0146), (1.837, 0.0168),
    (1.893, 0.0178), (1.962, 0.0217), (1.506, 0.0171), (1.571, 0.0133), (1.627, 0.0163),
    (1.684, 0.0148), (1.741, 0.0179), (1.798, 0.0138), (1.859, 0.0167), (1.917, 0.0196),
    (1.546, 0.0127), (1.602, 0.0151), (1.657, 0.0176), (1.713, 0.0137), (1.769, 0.0154),
    (1.828, 0.0149), (1.887, 0.0185), (1.993, 0.0214), (1.381, 0.0211), (1.431, 0.0197),
    (1.479, 0.0219), (1.342, 0.0204), (1.413, 0.0223), (1.462, 0.0191), (1.529, 0.0207),
    (1.597, 0.0214), (1.653, 0.0196), (1.727, 0.0218), (1.786, 0.0208), (1.848, 0.0221),
    (1.558, 0.0186), (1.676, 0.0193), (1.743, 0.0199), (1.812, 0.0201), (2.021, 0.0223),
    (2.062, 0.0229), (1.586, 0.0218), (1.643, 0.0229), (1.699, 0.0213), (1.757, 0.0226),
]

cloud_tail = [
    # 2.00 - 2.10
    (2.002, 0.0433), (2.004, 0.0712), (2.005, 0.0284), (2.007, 0.0516), (2.008, 0.0221),
    (2.010, 0.0364), (2.011, 0.126), (2.013, 0.0457), (2.014, 0.0297), (2.016, 0.0618),
    (2.017, 0.0389), (2.019, 0.0196), (2.020, 0.0853), (2.022, 0.0342), (2.023, 0.0493),
    (2.025, 0.0256), (2.026, 0.172), (2.028, 0.0412), (2.029, 0.0564), (2.031, 0.0311),
    (2.032, 0.0235), (2.034, 0.0738), (2.035, 0.0451), (2.037, 0.0369), (2.038, 0.104),
    (2.040, 0.0274), (2.041, 0.0527), (2.043, 0.0401), (2.044, 0.0209), (2.046, 0.0664),
    (2.047, 0.0332), (2.049, 0.147), (2.050, 0.0462), (2.052, 0.0289), (2.053, 0.0589),
    (2.055, 0.0375), (2.056, 0.0243), (2.058, 0.0917), (2.059, 0.0427), (2.061, 0.0318),
    (2.062, 0.0548), (2.064, 0.0215), (2.065, 0.0771), (2.067, 0.0385), (2.068, 0.118),
    (2.070, 0.0268), (2.071, 0.0476), (2.073, 0.0346), (2.074, 0.0634), (2.076, 0.0229),
    (2.077, 0.0413), (2.079, 0.0842), (2.080, 0.0301), (2.082, 0.0512), (2.083, 0.162),
    (2.085, 0.0358), (2.086, 0.0252), (2.088, 0.0697), (2.089, 0.0439), (2.091, 0.0324),
    (2.092, 0.0571), (2.094, 0.0207), (2.095, 0.0938), (2.097, 0.0394), (2.098, 0.0279),
    (2.099, 0.0504), (2.012, 0.0379), (2.033, 0.0418), (2.054, 0.0407), (2.075, 0.0382),
    (2.096, 0.0441),
    # 2.10 - 2.20
    (2.101, 0.0463), (2.103, 0.0286), (2.105, 0.0675), (2.107, 0.0371), (2.109, 0.0224),
    (2.111, 0.0548), (2.113, 0.131), (2.115, 0.0337), (2.117, 0.0442), (2.119, 0.0812),
    (2.121, 0.0259), (2.123, 0.0391), (2.125, 0.0597), (2.127, 0.0213), (2.129, 0.0478),
    (2.131, 0.0946), (2.133, 0.0322), (2.135, 0.0415), (2.137, 0.0641), (2.139, 0.0274),
    (2.141, 0.117), (2.143, 0.0362), (2.145, 0.0529), (2.147, 0.0241), (2.149, 0.0736),
    (2.151, 0.0403), (2.153, 0.0299), (2.155, 0.0887), (2.157, 0.0458), (2.159, 0.0342),
    (2.161, 0.0567), (2.163, 0.0226), (2.165, 0.105), (2.167, 0.0383), (2.169, 0.0491),
    (2.171, 0.0664), (2.173, 0.0313), (2.175, 0.0432), (2.177, 0.0794), (2.179, 0.0267),
    (2.181, 0.0541), (2.183, 0.0378), (2.185, 0.0612), (2.187, 0.0921), (2.189, 0.0448),
    (2.191, 0.0306), (2.193, 0.0583), (2.195, 0.0719), (2.197, 0.0396), (2.199, 0.0516),
    # 2.20 - 2.31
    (2.202, 0.0621), (2.206, 0.0412), (2.209, 0.0853), (2.212, 0.0347), (2.215, 0.0528),
    (2.218, 0.0716), (2.221, 0.0441), (2.224, 0.0998), (2.227, 0.0384), (2.231, 0.0579),
    (2.234, 0.0322), (2.238, 0.0468), (2.242, 0.0672), (2.246, 0.0401), (2.251, 0.0547),
    (2.256, 0.0363), (2.262, 0.0448), (2.268, 0.0591), (2.305, 0.0468), (2.306, 0.0391),
    (2.275, 0.134), (2.272, 0.0312), (2.283, 0.0729), (2.288, 0.0517),
    # along the present bound
    (1.343, 0.262), (1.412, 0.268), (1.468, 0.259), (1.531, 0.265), (1.598, 0.257),
    (1.662, 0.263), (1.727, 0.258), (1.745, 0.266), (1.812, 0.255), (1.549, 0.268),
    (2.051, 0.270),
]

wedge_upper = [
    (1.015, 0.0158), (1.072, 0.0150), (1.021, 0.0138), (1.066, 0.0125), (0.990, 0.00925),
    (1.001, 0.00975), (1.015, 0.0102), (1.039, 0.0102), (1.050, 0.0113), (1.059, 0.0097),
    (1.077, 0.0097), (1.086, 0.00984), (1.046, 0.0086), (1.090, 0.0086),
    (1.102, 0.0171), (1.105, 0.0124), (1.108, 0.0149), (1.111, 0.0096), (1.114, 0.0162),
    (1.117, 0.0113), (1.121, 0.0137), (1.124, 0.0088), (1.127, 0.0155), (1.131, 0.0119),
    (1.134, 0.0174), (1.138, 0.0102), (1.141, 0.0142), (1.145, 0.0128), (1.148, 0.0093),
    (1.152, 0.0166), (1.156, 0.0109), (1.159, 0.0133), (1.163, 0.0152), (1.167, 0.0091),
    (1.171, 0.0121), (1.175, 0.0175), (1.179, 0.0105), (1.184, 0.0146), (1.189, 0.0117),
    (1.194, 0.0158), (1.198, 0.0099),
    (1.201, 0.0135), (1.204, 0.0168), (1.207, 0.0112), (1.210, 0.0089), (1.213, 0.0151),
    (1.216, 0.0126), (1.219, 0.0176), (1.222, 0.0098), (1.225, 0.0141), (1.228, 0.0118),
    (1.231, 0.0161), (1.234, 0.0094), (1.237, 0.0131), (1.240, 0.0154), (1.243, 0.0107),
    (1.246, 0.0172), (1.249, 0.0124), (1.252, 0.0087), (1.255, 0.0145), (1.258, 0.0113),
    (1.261, 0.0164), (1.264, 0.0101), (1.267, 0.0137), (1.270, 0.0157), (1.273, 0.0092),
    (1.276, 0.0121), (1.279, 0.0148), (1.282, 0.0177), (1.285, 0.0108), (1.288, 0.0132),
    (1.291, 0.0159), (1.294, 0.0097), (1.297, 0.0127),
    (1.301, 0.0169), (1.304, 0.0116), (1.307, 0.0143), (1.310, 0.0095), (1.314, 0.0158),
    (1.317, 0.0129), (1.320, 0.0105), (1.324, 0.0174), (1.327, 0.0138), (1.331, 0.0115),
    (1.334, 0.0152), (1.338, 0.0099), (1.341, 0.0126), (1.345, 0.0167), (1.348, 0.0134),
    (1.352, 0.0109), (1.355, 0.0147), (1.359, 0.0178), (1.362, 0.0122), (1.366, 0.0156),
    (1.369, 0.0103), (1.373, 0.0139), (1.377, 0.0165), (1.381, 0.0118), (1.385, 0.0149),
    (1.389, 0.0107), (1.393, 0.0171), (1.397, 0.0133),
    (1.401, 0.0153), (1.405, 0.0121), (1.409, 0.0168), (1.413, 0.0139), (1.417, 0.0112),
    (1.421, 0.0161), (1.425, 0.0131), (1.429, 0.0176), (1.433, 0.0117), (1.437, 0.0147),
    (1.441, 0.0163), (1.445, 0.0126), (1.449, 0.0172), (1.453, 0.0142), (1.457, 0.0158),
    (1.461, 0.0129), (1.465, 0.0174), (1.469, 0.0149), (1.474, 0.0162), (1.479, 0.0136),
    (1.484, 0.0168), (1.489, 0.0153), (1.494, 0.0177),
    (1.137, 0.0161), (1.213, 0.0103), (1.288, 0.0162), (1.362, 0.0141), (1.437, 0.0129),
    (1.168, 0.0131), (1.243, 0.0142), (1.319, 0.0114), (1.394, 0.0159), (1.468, 0.0167),
    (1.112, 0.0131), (1.187, 0.0172), (1.264, 0.0123), (1.338, 0.0174), (1.413, 0.0117),
    (1.482, 0.0147), (1.153, 0.0119), (1.228, 0.0165), (1.303, 0.0136), (1.377, 0.0102),
    (1.452, 0.0161), (1.126, 0.0168), (1.201, 0.0119), (1.276, 0.0152), (1.351, 0.0123),
    (1.426, 0.0152), (1.492, 0.0162), (1.173, 0.0158), (1.249, 0.0099), (1.326, 0.0152),
    (1.402, 0.0137), (1.461, 0.0143), (1.143, 0.0107), (1.218, 0.0147), (1.294, 0.0113),
    (1.369, 0.0163), (1.444, 0.0157), (1.109, 0.0155), (1.186, 0.0127), (1.259, 0.0136),
    (1.334, 0.0103), (1.409, 0.0147), (1.476, 0.0171), (1.161, 0.0178), (1.236, 0.0118),
    (1.311, 0.0171), (1.385, 0.0129), (1.457, 0.0137), (1.197, 0.0141), (1.271, 0.0104),
    (1.346, 0.0156), (1.419, 0.0173), (1.487, 0.0141), (1.132, 0.0094), (1.207, 0.0163),
    (1.283, 0.0093), (1.357, 0.0116), (1.431, 0.0164), (1.181, 0.0096), (1.256, 0.0171),
]

wedge_lower = [
    (0.990, 0.00697), (1.003, 0.00730), (1.048, 0.00730), (1.061, 0.00802), (1.077, 0.00776),
    (1.086, 0.00665), (1.003, 0.00547), (1.028, 0.00547), (1.072, 0.00520), (1.079, 0.00601),
    (1.115, 0.0083), (1.121, 0.00655), (1.130, 0.00535), (1.139, 0.00776), (1.146, 0.00612),
    (1.157, 0.00725), (1.166, 0.00552), (1.172, 0.0083), (1.181, 0.00655), (1.190, 0.00516),
    (1.199, 0.0075), (1.210, 0.00612), (1.219, 0.00802), (1.228, 0.00677), (1.237, 0.00543),
    (1.246, 0.00776), (1.255, 0.00633), (1.264, 0.00725), (1.275, 0.0083), (1.282, 0.00582),
    (1.295, 0.00725), (1.308, 0.0083), (1.315, 0.00701), (1.119, 0.00725), (1.155, 0.00845),
    (1.206, 0.00482), (1.175, 0.00482), (1.246, 0.00482), (1.259, 0.00516),
    (1.122, 0.0071), (1.158, 0.0063), (1.187, 0.0079), (1.224, 0.0072), (1.261, 0.0066),
    (1.298, 0.0078), (1.333, 0.0081), (1.141, 0.0058), (1.176, 0.0068), (1.213, 0.0056),
    (1.248, 0.0069), (1.286, 0.0068), (1.163, 0.0077), (1.196, 0.0061), (1.232, 0.0081),
    (1.271, 0.0062), (1.312, 0.0076), (1.104, 0.0062), (1.134, 0.0082), (1.271, 0.0083),
    (1.010, 0.00410), (1.023, 0.00451), (1.021, 0.00374), (1.015, 0.00321), (1.028, 0.00321),
    (1.046, 0.00410), (1.052, 0.00491), (1.059, 0.00451), (1.063, 0.00407), (1.072, 0.00380),
    (1.090, 0.00356), (1.104, 0.00410), (1.112, 0.00344), (1.126, 0.00436), (1.130, 0.00321),
    (1.139, 0.00368), (1.148, 0.00290), (1.157, 0.00394), (1.166, 0.00332), (1.175, 0.00407),
    (1.184, 0.00344), (1.193, 0.00421), (1.204, 0.00310), (1.108, 0.00280), (1.135, 0.00262),
    (0.997, 0.00258), (1.012, 0.00253), (1.017, 0.00210), (1.028, 0.00200), (1.037, 0.00180),
    (1.039, 0.00240), (1.048, 0.00267), (1.052, 0.00198), (1.061, 0.00174), (1.068, 0.00245),
    (1.077, 0.00271), (1.086, 0.00253), (1.086, 0.00193), (1.101, 0.00221), (1.112, 0.00193),
    (1.121, 0.00221), (1.135, 0.00193), (1.153, 0.00237), (1.161, 0.00193), (1.172, 0.00214),
    (1.009, 0.00164), (1.050, 0.00165), (1.086, 0.00164), (1.101, 0.00169), (1.117, 0.00174),
    (1.137, 0.00165), (1.161, 0.00158), (1.026, 0.00143), (1.135, 0.00140), (1.148, 0.00142),
    (0.997, 0.00119), (1.010, 0.00124), (1.035, 0.00131), (1.052, 0.00133), (1.063, 0.00128),
    (1.077, 0.00140), (1.086, 0.00133), (1.110, 0.00124), (1.136, 0.00113), (1.141, 0.00124),
    (1.161, 0.00124),
    (1.012, 0.00101), (1.015, 0.00098), (1.047, 0.000891), (1.066, 0.00108), (1.072, 0.00098),
    (1.060, 0.00097), (1.090, 0.00108), (1.090, 0.00098), (1.117, 0.00093), (1.010, 0.000841),
    (1.003, 0.000697), (1.015, 0.000734), (0.997, 0.000578), (1.010, 0.000550),
    (1.010, 0.000480), (1.023, 0.000475), (1.035, 0.000456), (1.048, 0.000460), (1.010, 0.000433),
    (1.010, 0.000378), (1.035, 0.000356), (1.010, 0.000288), (1.014, 0.000309), (1.012, 0.000275),
    (0.997, 0.000192),
]

scan = pd.concat(
    [pd.DataFrame(p, columns=["lam_ratio", "hzz_dev"])
     for p in (sparse_left, cloud_mid_lam, cloud_high_lam, cloud_upper_fill,
               cloud_mid_fill, cloud_core_fill, cloud_low_fill, cloud_tail,
               wedge_upper, wedge_lower)],
    ignore_index=True,
)

# ------------------------------------------------------------------
# Figure
# ------------------------------------------------------------------
sns.set_theme(style="white")
plt.rcParams["font.family"] = ["Liberation Sans", "DejaVu Sans"]
plt.rcParams["mathtext.fontset"] = "custom"
plt.rcParams["mathtext.rm"] = "Liberation Sans"
plt.rcParams["mathtext.it"] = "Liberation Sans:italic"
plt.rcParams["mathtext.bf"] = "Liberation Sans:bold"
plt.rcParams["text.color"] = "black"
plt.rcParams["axes.labelcolor"] = "black"
plt.rcParams["xtick.color"] = "black"
plt.rcParams["ytick.color"] = "black"

fig = plt.figure(figsize=(19.57, 12.17), dpi=100)
ax = fig.add_axes([0.1773, 0.1809, 0.8068, 0.8030])
ax.set_yscale("log")

point_color = "#F9A658"
sns.scatterplot(data=scan, x="lam_ratio", y="hzz_dev", ax=ax, color=point_color,
                s=34, linewidth=0, edgecolor="none", zorder=2, legend=False)

ax.set_xlim(*lam_limits)
ax.set_ylim(*dev_limits)

# light grey guide lines (sit underneath the exclusion shading)
guide_grey = "#D3D3D3"
for lam in guide_lams:
    ax.plot([lam, lam], [6.3e-5, dev_limits[1]], color=guide_grey, lw=3.0,
            zorder=3, clip_on=False, solid_capstyle="butt")
ax.axhline(guide_dev, color=guide_grey, lw=3.2, zorder=3)
ax.plot([upper_guide_start, lam_limits[1]], [upper_guide_dev, upper_guide_dev],
        color=guide_grey, lw=2.9, zorder=3, solid_capstyle="butt")

# present bound and labels (under the shading, so they come out dark red)
ax.axhline(current_dev_bound, color="black", lw=3.3, zorder=3)
ax.text(2.387, 0.228, "current", ha="center", va="baseline", fontsize=34,
        color="black", zorder=3)
ax.text(0.491, 0.522, "HL-LHC", ha="left", va="baseline", fontsize=48,
        color="black", zorder=3)
ax.text(0.478, 0.0719, "!", ha="center", va="center", fontsize=34,
        color="black", zorder=3)
ax.plot([lam_limits[0], lam_window[0]], [hl_lhc_dev_bound] * 2, color="black",
        lw=3.3, zorder=3, solid_capstyle="butt")
ax.plot([lam_window[1], lam_window[1]], [6.4e-5, hl_lhc_dev_bound], color="black",
        lw=4.0, zorder=3, clip_on=False, solid_capstyle="butt")

# HL-LHC exclusion shading: everything outside the lambda window or above the hZZ reach
x0, x1 = lam_limits[0], 2.557
y0, y1 = 6.68e-5, 1.597
hole_right = lam_window[1] - 0.004
shade = Polygon(
    [(x0, y0), (lam_window[0], y0), (lam_window[0], hl_lhc_dev_bound),
     (hole_right, hl_lhc_dev_bound), (hole_right, y0), (x1, y0), (x1, y1), (x0, y1)],
    closed=True, facecolor="#E51806", alpha=0.35, edgecolor="none",
    zorder=4, clip_on=False)
ax.add_patch(shade)

# HL-LHC boundary drawn on top
ax.plot([lam_window[0], lam_limits[1]], [hl_lhc_dev_bound] * 2, color="black",
        lw=3.3, zorder=6, solid_capstyle="butt")
ax.plot([lam_window[0], lam_window[0]], [6.3e-5, hl_lhc_dev_bound], color="black",
        lw=3.3, zorder=6, clip_on=False, solid_capstyle="butt")

# orange band marker and red markers
ax.plot(band_lams, [band_dev, band_dev], color="#F08A45", lw=3.6, zorder=6,
        solid_capstyle="butt")
for a, b in red_marks_lams:
    ax.plot([a, b], [red_marks_dev, red_marks_dev], color="#FF1A1A", lw=1.4,
            zorder=6, solid_capstyle="butt")

# ------------------------------------------------------------------
# Axes styling
# ------------------------------------------------------------------
for sp in ax.spines.values():
    sp.set_color("black")
    sp.set_linewidth(2.2)
    sp.set_zorder(3)

ax.xaxis.set_major_locator(FixedLocator(lam_ticks))
ax.xaxis.set_major_formatter(FixedFormatter(lam_tick_labels))
ax.xaxis.set_minor_locator(MultipleLocator(0.1))
ax.yaxis.set_major_locator(FixedLocator(dev_ticks))
ax.yaxis.set_major_formatter(FixedFormatter(dev_tick_labels))
ax.yaxis.set_minor_locator(LogLocator(base=10, subs=range(2, 10), numticks=20))
ax.yaxis.set_minor_formatter(NullFormatter())

ax.xaxis.set_tick_params(which="major", direction="in", length=13, width=1.8,
                         top=True, bottom=True, labelsize=45, pad=22, color="black",
                         labelcolor="black")
ax.xaxis.set_tick_params(which="minor", direction="in", length=8, width=1.6,
                         top=True, bottom=True, color="black")
ax.yaxis.set_tick_params(which="major", direction="in", length=10, width=1.8,
                         left=True, right=True, labelsize=43, pad=9, color="black",
                         labelcolor="black")
ax.yaxis.set_tick_params(which="minor", direction="in", length=6, width=1.4,
                         left=True, right=True, color="black")

ax.set_xlabel(r"hhh coupling:  $\lambda_3/\lambda_{3,\mathrm{SM}}$", fontsize=52,
              color="black")
ax.set_ylabel(r"hZZ coupling:  $|g_{\mathrm{hZZ}}/g_{\mathrm{hZZ}}^{\mathrm{SM}}\ -\ 1|$",
              fontsize=52, color="black")
ax.xaxis.set_label_coords(0.5, -0.1875)
ax.xaxis.label.set_va("center")
ax.yaxis.set_label_coords(-0.162, 0.5)
ax.yaxis.label.set_va("center")

fig.text(0.5728, 1 - 7 / 1217, "Real Scalar Singlet Model", ha="center",
         va="baseline", fontsize=45, color="black")

fig.savefig("out.png", dpi=100)
